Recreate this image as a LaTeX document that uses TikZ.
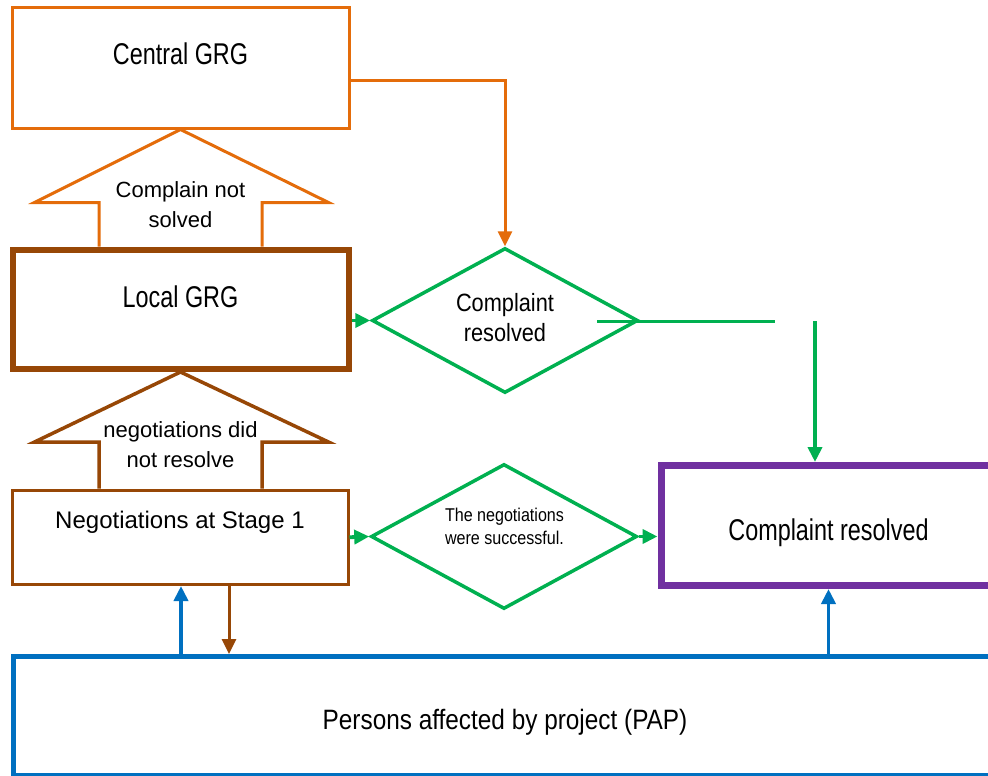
\documentclass[tikz,border=0pt]{standalone}
\usepackage{fontspec}
\setmainfont{Liberation Sans}
\newfontfamily\fA{Liberation Sans}[FakeStretch=0.78]
\newfontfamily\fB{Liberation Sans}[FakeStretch=0.87]
\usetikzlibrary{shapes.geometric,arrows.meta,calc}
\definecolor{cOrange}{HTML}{E46C0A}
\definecolor{cBrown}{HTML}{974706}
\definecolor{cGreen}{HTML}{00B050}
\definecolor{cPurple}{HTML}{7030A0}
\definecolor{cBlue}{HTML}{0070C0}
\begin{document}
\begin{tikzpicture}[x=1pt,y=-1pt,
  box/.style={draw,rectangle,inner sep=0pt,fill=white},
  decision/.style={draw=cGreen,line width=3.5pt,diamond,aspect=1.85,inner sep=0pt,
    minimum width=266pt,minimum height=145pt,fill=white},
  tipA/.style={-{Triangle[length=15pt,width=14pt]}},
  gline/.style={draw=cGreen,line width=3.8pt},
  bline/.style={draw=cBlue,line width=3.8pt},
  txt/.style={inner sep=0pt,text=black},
  bigT/.style={txt,font=\fA\fontsize{30}{36}\selectfont},
]
\useasboundingbox (0,0) rectangle (988,776);
\clip (0,0) rectangle (988,776);

% boxes
\node[box,draw=cOrange,line width=3pt,minimum width=337pt,minimum height=120pt] (central) at (180.5,68) {};
\node[box,draw=cBrown,line width=6pt,minimum width=336pt,minimum height=119.5pt] (local) at (180.5,309.25) {};
\node[box,draw=cBrown,line width=3pt,minimum width=336pt,minimum height=94.5pt] (neg) at (180,537.25) {};
\node[box,draw=cPurple,line width=7pt,minimum width=335pt,minimum height=120pt] (purple) at (828.5,525.5) {};
\node[box,draw=cBlue,line width=5pt,minimum width=984pt,minimum height=119pt] (pap) at (505,716) {};

% decisions
\node[decision] (d1) at (505,320.5) {};
\node[decision] (d2) at (504,536.5) {};

% block arrows
\filldraw[draw=cOrange,fill=white,line width=3pt]
  ($(local.north)+(81.5,0)$) -- ($(central.south)+(81.5,73)$) -- ($(central.south)+(148,73)$)
  -- (central.south) -- ($(central.south)+(-146,73)$) -- ($(central.south)+(-81.5,73)$)
  -- ($(local.north)+(-81.5,0)$);
\filldraw[draw=cBrown,fill=white,line width=3.5pt]
  ($(neg.north)+(82,0)$) -- ($(local.south)+(81.5,70)$) -- ($(local.south)+(148,70)$)
  -- (local.south) -- ($(local.south)+(-146,70)$) -- ($(local.south)+(-81.5,70)$)
  -- ($(neg.north)+(-81,0)$);

% connectors
\draw[draw=cOrange,line width=3pt,tipA] ($(central.east)+(0,13)$) -| (d1.north);
\draw[gline,tipA] (d1.west -| local.east) -- (d1.west);
\coordinate (g1) at (597,321.5);
\coordinate (g2) at (775,321.5);
\coordinate (g3) at (815,321);
\draw[gline] (g1) -- (g2);
\draw[gline,tipA] (g3) -- (g3 |- purple.north);
\draw[gline,tipA] (neg.east) -- (d2.west);
\draw[gline,tipA] (d2.east) -- (d2.east -| purple.west);
\draw[bline,tipA] ($(pap.north -| neg.south)+(1,0)$) -- ($(neg.south)+(1,0)$);
\coordinate (bx) at ($(neg.south)+(49,0)$);
\draw[draw=cBrown,line width=3pt,tipA] (bx) -- (bx |- pap.north);
\draw[bline,tipA] (pap.north -| purple.south) -- (purple.south);

% texts
\node[bigT,anchor=base] (tcentral) at (180.5,65) {Central GRG};
\node[bigT,anchor=base] (tlocal) at (180.5,307) {Local GRG};
\node[txt,anchor=base,font=\fontsize{24}{28}\selectfont] (tneg) at (180,528.3) {Negotiations at Stage 1};
\node[bigT,anchor=base] (tpurple) at (828.5,540) {Complaint resolved};
\node[txt,anchor=base,font=\fB\fontsize{28}{32}\selectfont] (tpap) at (505,729.3) {Persons affected by project (PAP)};
\node[txt,align=center,font=\fontsize{22}{30}\selectfont] (tb1) at (180.5,205) {Complain not\\solved};
\node[txt,align=center,font=\fontsize{22}{30}\selectfont] (tb2) at (180.5,445) {negotiations did\\not resolve};
\node[txt,align=center,font=\fB\fontsize{25}{30}\selectfont] (td1) at (505,317.5) {Complaint\\resolved};
\node[txt,align=center,font=\fB\fontsize{18.5}{23.3}\selectfont] (td2) at (504.5,526.6) {The negotiations\\were successful.};
\end{tikzpicture}
\end{document}
